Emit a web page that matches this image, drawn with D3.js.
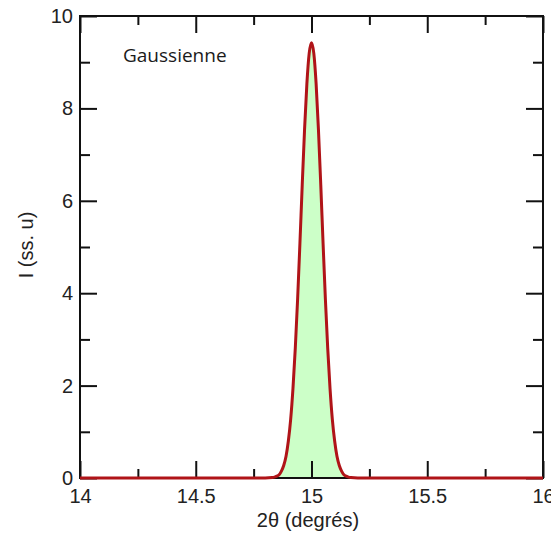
<!DOCTYPE html>
<html><head><meta charset="utf-8">
<script src="https://cdn.jsdelivr.net/npm/d3@7"></script>
<style>body{margin:0;background:#fff;overflow:hidden}svg{display:block}</style>
</head><body>
<svg id="c" width="551" height="534"></svg>
<script>
// Data (2θ in degrees, intensity in arbitrary units)
const twoTheta = [14.0, 14.8, 14.83, 14.84, 14.85, 14.86, 14.87, 14.88, 14.89, 14.90, 14.91, 14.92, 14.93, 14.94, 14.95, 14.96, 14.97, 14.98, 14.99, 15.00,
                  15.01, 15.02, 15.03, 15.04, 15.05, 15.06, 15.07, 15.08, 15.09, 15.10, 15.11, 15.12, 15.13, 15.14, 15.15, 15.16, 15.17, 15.2, 16.0];
const intensity = [0, 0, 0.01, 0.02, 0.04, 0.07, 0.15, 0.27, 0.47, 0.80, 1.27, 1.94, 2.81, 3.87, 5.08, 6.35, 7.54, 8.53, 9.19, 9.42,
                   9.19, 8.53, 7.54, 6.35, 5.08, 3.87, 2.81, 1.94, 1.27, 0.80, 0.47, 0.27, 0.15, 0.07, 0.04, 0.02, 0.01, 0, 0];
const xMajorTicks = [14, 14.5, 15, 15.5, 16];
const xMinorTicks = [14.25, 14.75, 15.25, 15.75];
const yMajorTicks = [0, 2, 4, 6, 8, 10];
const yMinorTicks = [1, 3, 5, 7, 9];
const xLabel = "2\u03b8 (degrés)";
const yLabel = "I (ss. u)";
const annotation = "Gaussienne";

const svg = d3.select("#c");
const L = 80, R = 543, T = 16, B = 478;
const x = d3.scaleLinear().domain([14, 16]).range([L, R]);
const y = d3.scaleLinear().domain([0, 10]).range([B, T]);
const pts = twoTheta.map((t, i) => [t, intensity[i]]);

svg.append("path").datum(pts)
  .attr("fill", "#ccffc8")
  .attr("d", d3.area().x(d => x(d[0])).y0(y(0)).y1(d => y(d[1])).curve(d3.curveMonotoneX));

const font = "Liberation Sans, Arial, sans-serif";
function style(g) {
  g.select(".domain").remove();
  g.selectAll("line").attr("stroke", "#111").attr("stroke-width", 2);
  g.selectAll("text").attr("font-family", font).attr("font-size", 20).attr("fill", "#222");
}
svg.append("g").attr("transform", `translate(0,${B})`)
  .call(d3.axisBottom(x).tickValues(xMajorTicks).tickSize(-17).tickPadding(11).tickFormat(d3.format("")))
  .call(style);
svg.append("g").attr("transform", `translate(0,${B})`)
  .call(d3.axisBottom(x).tickValues(xMinorTicks).tickSize(-9).tickFormat(""))
  .call(style);
svg.append("g").attr("transform", `translate(0,${T})`)
  .call(d3.axisTop(x).tickValues(xMajorTicks).tickSize(-17).tickFormat(""))
  .call(style);
svg.append("g").attr("transform", `translate(0,${T})`)
  .call(d3.axisTop(x).tickValues(xMinorTicks).tickSize(-9).tickFormat(""))
  .call(style);
svg.append("g").attr("transform", `translate(${L},0)`)
  .call(d3.axisLeft(y).tickValues(yMajorTicks).tickSize(-17).tickPadding(7))
  .call(style);
svg.append("g").attr("transform", `translate(${L},0)`)
  .call(d3.axisLeft(y).tickValues(yMinorTicks).tickSize(-10).tickFormat(""))
  .call(style);
svg.append("g").attr("transform", `translate(${R},0)`)
  .call(d3.axisRight(y).tickValues(yMajorTicks).tickSize(-17).tickFormat(""))
  .call(style);
svg.append("g").attr("transform", `translate(${R},0)`)
  .call(d3.axisRight(y).tickValues(yMinorTicks).tickSize(-10).tickFormat(""))
  .call(style);

svg.append("rect").attr("x", L).attr("y", T).attr("width", R - L).attr("height", B - T)
  .attr("fill", "none").attr("stroke", "#111").attr("stroke-width", 2);

svg.append("path").datum(pts)
  .attr("fill", "none").attr("stroke", "#b01418").attr("stroke-width", 3)
  .attr("stroke-linejoin", "round")
  .attr("d", d3.line().x(d => x(d[0])).y(d => y(d[1])).curve(d3.curveMonotoneX));

svg.append("text").attr("x", 308).attr("y", 527).attr("text-anchor", "middle")
  .attr("font-family", font).attr("font-size", 20).attr("fill", "#222").text(xLabel);
svg.append("text").attr("transform", `translate(33,${245}) rotate(-90)`).attr("text-anchor", "middle")
  .attr("font-family", font).attr("font-size", 20).attr("fill", "#222").text(yLabel);
svg.append("text").attr("x", 123).attr("y", 62)
  .attr("font-family", "Open Sans, sans-serif").attr("font-size", 19).attr("fill", "#1a1a1a").text(annotation);
</script>
</body></html>
